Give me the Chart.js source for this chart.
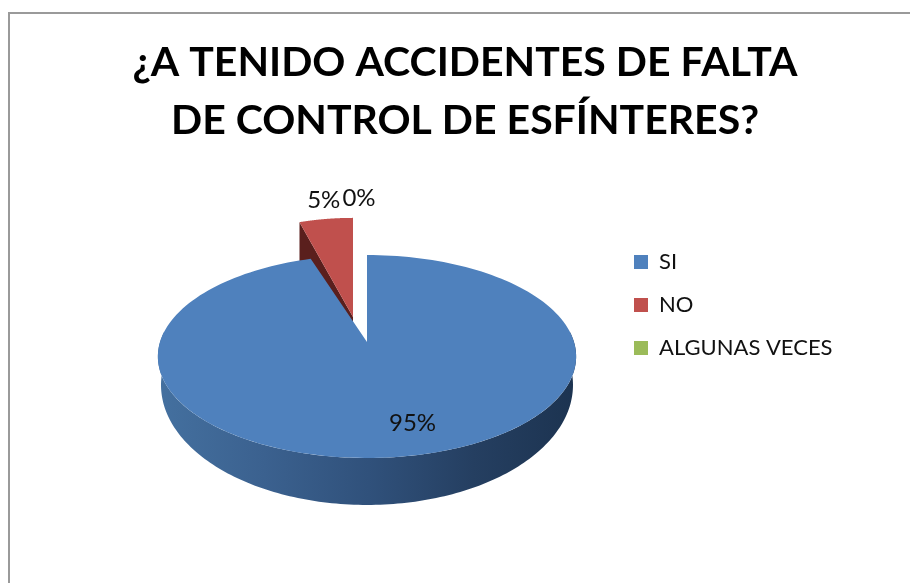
<!DOCTYPE html>
<html>
<head>
<meta charset="utf-8">
<script src="https://cdn.jsdelivr.net/npm/chart.js@4"></script>
<style>
  html, body { margin: 0; padding: 0; background: #fff; overflow: hidden; }
  #wrap { position: relative; width: 910px; height: 583px; }
  #frame { position: absolute; left: 8px; top: 12px; right: 0; bottom: 0; border-left: 2px solid #9a9a9a; border-top: 2px solid #9a9a9a; }
  #myChart { position: absolute; left: 0; top: 0; }
</style>
</head>
<body>
<div id="wrap">
  <canvas id="myChart" width="910" height="583"></canvas>
  <div id="frame"></div>
</div>
<script>
const titleLines = ['¿A TENIDO ACCIDENTES DE FALTA', 'DE CONTROL DE ESFÍNTERES?'];
const categories = ['SI', 'NO', 'ALGUNAS VECES'];
const percentages = [95, 5, 0];
const colors = ['#4f81bd', '#c0504d', '#9bbb59'];

// perspective of the tilted pie, the library gives centre, radius and angles
const tilt = { a: 99.4 / 207, b: 0.1429 };
const depth = { sx: 0.985, sy: 1.182, cy: 385, topCy: 356.5 };
// only NO is pulled out of the pie
const explode = [null, { dx: -14, dy: -25, sx: 0.95, sy: 1.14, side: 38 }, null];
const labelNudge = [[22, 10], [-10, -41], [-8, -42]];
const labelReach = [0.66, 1.2, 1.2];

function project(el, u, v) {
  const k = 1 - tilt.b * v;
  return {
    x: el.x + el.outerRadius * u / k,
    y: el.y + el.outerRadius * tilt.a * v / k
  };
}

function rimPoints(el, from, to) {
  const steps = 180;
  const pts = [];
  for (let i = 0; i <= steps; i++) {
    const t = from + (to - from) * i / steps;
    pts.push(project(el, Math.cos(t), Math.sin(t)));
  }
  return pts;
}

function lower(el, p) {
  return { x: el.x + (p.x - el.x) * depth.sx, y: depth.cy + (p.y - depth.topCy) * depth.sy };
}

function fillPoly(ctx, pts, fill) {
  ctx.beginPath();
  pts.forEach((p, i) => (i ? ctx.lineTo(p.x, p.y) : ctx.moveTo(p.x, p.y)));
  ctx.closePath();
  ctx.fillStyle = fill;
  ctx.fill();
}

const pie3d = {
  id: 'pie3d',
  afterLayout(chart) {
    // title and legend do not follow the pie's padding
    chart.titleBlock.left = 0;
    chart.titleBlock.right = 930;
    chart.legend.left = 613;
    chart.legend.right = 613 + chart.legend.width;
    chart.legend.top = 230;
    chart.legend.bottom = 230 + chart.legend.height;
  },
  beforeDatasetsDraw(chart) {
    const ctx = chart.ctx;
    const arcs = chart.getDatasetMeta(0).data;
    ctx.save();

    // pulled out slice first, the big one overlaps its dark side
    arcs.forEach((el, i) => {
      const ex = explode[i];
      if (!ex || el.circumference === 0) return;
      const move = p => ({
        x: el.x + ex.dx + (p.x - el.x) * ex.sx,
        y: el.y + ex.dy + (p.y - el.y) * ex.sy
      });
      const tip = move({ x: el.x, y: el.y });
      const rim = rimPoints(el, el.startAngle, el.endAngle).map(move);
      const edge = rim[0];
      fillPoly(ctx, [edge, tip, { x: tip.x, y: tip.y + ex.side }, { x: edge.x, y: edge.y + ex.side }], '#5a1f1d');
      fillPoly(ctx, [tip].concat(rim), colors[i]);
    });

    // big slice: front wall then top face
    arcs.forEach((el, i) => {
      if (explode[i] || el.circumference === 0) return;
      const top = rimPoints(el, Math.max(el.startAngle, -0.1), Math.min(el.endAngle, Math.PI + 0.1));
      const wall = top.map(p => lower(el, p)).concat(top.slice().reverse());
      const grad = ctx.createLinearGradient(160, 0, 577, 0);
      grad.addColorStop(0, '#44709f');
      grad.addColorStop(0.25, '#3b618f');
      grad.addColorStop(0.5, '#30517b');
      grad.addColorStop(0.75, '#253f61');
      grad.addColorStop(1, '#1c3350');
      fillPoly(ctx, wall, grad);
      fillPoly(ctx, [{ x: el.x, y: el.y }].concat(rimPoints(el, el.startAngle, el.endAngle)), colors[i]);
    });

    // percentage labels
    ctx.fillStyle = '#111';
    ctx.font = '24px Lato';
    ctx.textAlign = 'center';
    ctx.textBaseline = 'middle';
    arcs.forEach((el, i) => {
      const mid = el.startAngle + el.circumference / 2;
      const f = labelReach[i];
      const p = project(el, Math.cos(mid) * f, Math.sin(mid) * f);
      ctx.fillText(percentages[i] + '%', p.x + labelNudge[i][0], p.y + labelNudge[i][1]);
    });

    ctx.restore();
    return false;
  }
};

new Chart(document.getElementById('myChart').getContext('2d'), {
  type: 'pie',
  data: {
    labels: categories,
    datasets: [{
      data: percentages,
      backgroundColor: colors,
      borderWidth: 0
    }]
  },
  plugins: [pie3d],
  options: {
    responsive: false,
    animation: false,
    layout: { padding: { left: 160, right: 336, top: 0, bottom: 34 } },
    plugins: {
      tooltip: { enabled: false },
      title: {
        display: true,
        text: titleLines,
        color: '#000',
        font: { family: 'Lato', size: 41, weight: 'bold', lineHeight: 1.415 },
        padding: { top: 34, bottom: -15 }
      },
      legend: {
        position: 'chartArea',
        align: 'start',
        labels: {
          boxWidth: 14,
          boxHeight: 14,
          padding: 21,
          color: '#111',
          font: { family: 'Lato', size: 22 }
        }
      }
    }
  }
});
</script>
</body>
</html>
